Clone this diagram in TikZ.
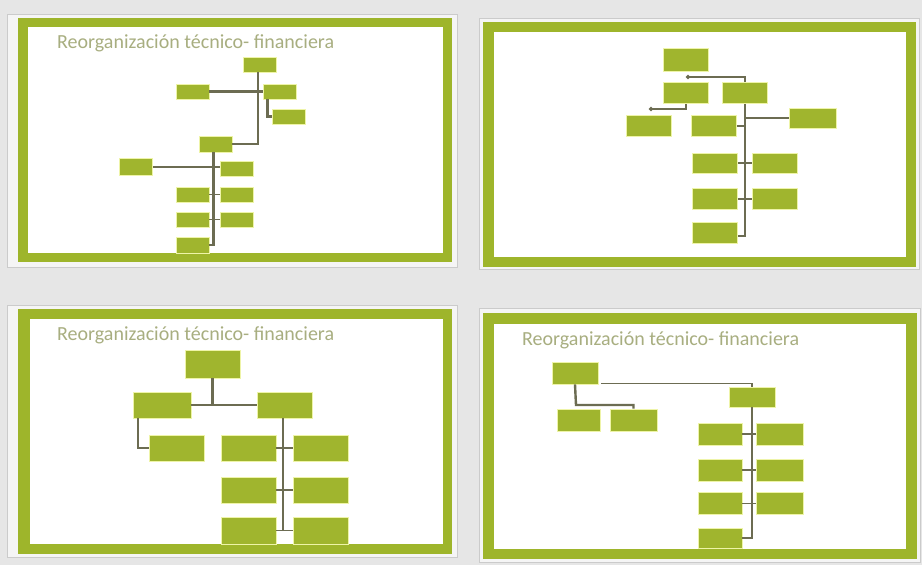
\documentclass[tikz,border=0pt]{standalone}
\usepackage{fontspec}
\newfontfamily\titlefont{Carlito}
\usetikzlibrary{arrows.meta}
\definecolor{bggray}{HTML}{E6E6E6}
\definecolor{framegreen}{HTML}{9EB52B}
\definecolor{boxgreen}{HTML}{A0B52E}
\definecolor{boxedge}{HTML}{EEF4A8}
\definecolor{linkgray}{HTML}{6C6C52}
\definecolor{titlecol}{HTML}{A8AE80}
\definecolor{thinframe}{HTML}{CBCBCB}
\tikzset{
  box/.style={fill=boxgreen, draw=boxedge, line width=0.8pt, inner sep=0pt},
  link/.style={draw=linkgray, line width=2.4pt},
  tick/.style={draw=linkgray, line width=1.6pt},
  slidetitle/.style={anchor=west, text=titlecol, font=\titlefont\fontsize{20}{22}\selectfont, inner sep=0pt},
  thin/.style={draw=thinframe, line width=0.8pt, fill=white!60!bggray},
}
\newcommand{\slideframe}[8]{%
  \draw[thin] (#1,#2) rectangle (#3,#4);
  \fill[framegreen] (#5,#6) rectangle (#7,#8);
}
\begin{document}
\begin{tikzpicture}[x=1pt,y=-1pt]
\fill[bggray] (0,0) rectangle (922,565);
\useasboundingbox (0,0) rectangle (922,565);

% ---------- slide frames ----------
\slideframe{7}{14}{457}{267}{18}{18}{452}{262}
\fill[white] (28,27) rectangle (443,253);
\slideframe{479}{18}{919}{269}{483}{22}{916}{267}
\fill[white] (494,32) rectangle (906,257);
\slideframe{7}{305}{457}{557}{18}{309}{452}{554}
\fill[white] (30,319) rectangle (443,544);
\slideframe{479}{308}{920}{562}{483}{313}{917}{559}
\fill[white] (494,324) rectangle (906,549);

% ---------- titles ----------
\node[slidetitle] (t1) at (57,43) {Reorganización técnico- financiera};
\node[slidetitle] (t3) at (57,335) {Reorganización técnico- financiera};
\node[slidetitle] (t4) at (522,340) {Reorganización técnico- financiera};

% ---------- slide 1 ----------
\begin{scope}[every node/.style={box, minimum width=33pt, minimum height=15pt}]
\node (a1) at (260,64.5) {};
\node (b1) at (192.5,91.5) {};
\node (c1) at (279.5,91.5) {};
\node (d1) at (288.5,116.5) {};
\node[minimum height=16pt] (e1) at (215.5,144) {};
\node[minimum height=17pt] (f1) at (136,167) {};
\node (g1) at (237,168.5) {};
\node (h1) at (192.5,194.5) {};
\node (i1) at (237,194.5) {};
\node (j1) at (192.5,219.5) {};
\node (k1) at (237,219.5) {};
\node[minimum height=16pt] (l1) at (192.5,245) {};
\end{scope}
\draw[link] ([xshift=-2pt]a1.south) |- (e1.east);
\draw[link] (b1.east) -- (c1.west);
\draw[link] ([xshift=-12pt]c1.south) |- (d1.west);
\draw[link] ([xshift=-2pt]e1.south) |- (l1.east);
\draw[tick] (f1.east) -- (f1.east -| g1.west);
\draw[tick] (h1.east) -- (i1.west);
\draw[tick] (j1.east) -- (k1.west);

% ---------- slide 2 ----------
\begin{scope}[every node/.style={box, minimum width=45pt, minimum height=21pt}]
\node[minimum height=23pt] (a2) at (686,59.5) {};
\node (b2) at (686,93) {};
\node (c2) at (745,93) {};
\node (d2) at (649,125.5) {};
\node (e2) at (714,126) {};
\node[minimum width=47pt, minimum height=20pt] (f2) at (812.5,118) {};
\node[minimum height=20pt] (g2) at (715,163) {};
\node[minimum height=20pt] (h2) at (775,163) {};
\node (i2) at (715,199) {};
\node (j2) at (775,199) {};
\node (k2) at (715,233) {};
\end{scope}
\coordinate (a2j) at (686,77);
\coordinate (b2j) at (649,109);
\draw[tick, -{Circle[length=4pt]}] (c2.north) |- (a2j);
\draw[tick, -{Circle[length=4pt]}] (b2.south) |- (b2j);
\draw[link] (c2.south) |- ([yshift=-3pt]k2.east);
\draw[tick] (c2.south |- f2.west) -- (f2.west);
\draw[tick] (e2.east) -- (c2.south |- e2.east);
\draw[tick] (g2.east) -- (h2.west);
\draw[tick] (i2.east) -- (j2.west);

% ---------- slide 3 ----------
\begin{scope}[every node/.style={box, minimum width=55pt, minimum height=26pt}]
\node[minimum height=28pt] (a3) at (212.5,364) {};
\node[minimum width=58pt] (b3) at (162,405) {};
\node (c3) at (284.5,405) {};
\node (d3) at (176.5,448) {};
\node (e3) at (248.5,448) {};
\node (f3) at (320.5,448) {};
\node (g3) at (248.5,490) {};
\node (h3) at (320.5,490) {};
\node[minimum height=27pt] (i3) at (248.5,530.5) {};
\node[minimum height=27pt] (j3) at (320.5,530.5) {};
\end{scope}
\draw[link] (a3.south) -- (a3.south |- b3.east);
\draw[link] (b3.east) -- (c3.west);
\draw[link] ([xshift=-24pt]b3.south) |- (d3.west);
\draw[link] ([xshift=-1.5pt]c3.south) -- ([xshift=-1.5pt]c3.south |- i3.east);
\draw[tick] (e3.east) -- (f3.west);
\draw[tick] (g3.east) -- (h3.west);
\draw[tick] (i3.east) -- (j3.west);

% ---------- slide 4 ----------
\begin{scope}[every node/.style={box, minimum width=45pt, minimum height=22pt}]
\node[minimum width=46pt] (a4) at (575,373) {};
\node[minimum width=46pt, minimum height=20pt] (b4) at (752,397) {};
\node[minimum width=43pt] (c4) at (578.5,420) {};
\node[minimum width=47pt] (d4) at (633.5,420) {};
\node[minimum width=44pt] (e4) at (720,434) {};
\node[minimum width=47pt] (f4) at (779.5,434) {};
\node[minimum width=44pt] (g4) at (720,470) {};
\node[minimum width=47pt] (h4) at (779.5,470) {};
\node[minimum width=44pt] (i4) at (720,503.5) {};
\node[minimum width=47pt] (j4) at (779.5,503.5) {};
\node[minimum width=44pt, minimum height=20pt] (k4) at (720,538) {};
\end{scope}
\coordinate (a4j) at (576,405);
\draw[tick] ([xshift=3pt,yshift=1pt]a4.south east) -- ([yshift=1pt]b4.north |- a4.south east) -- (b4.north);
\draw[link] (a4.south) -- (a4j) -- (d4.north |- a4j) -- (d4.north);
\draw[link] (b4.south) |- (k4.east);
\draw[tick] (e4.east) -- (f4.west);
\draw[tick] (g4.east) -- (h4.west);
\draw[tick] (i4.east) -- (j4.west);
\end{tikzpicture}
\end{document}
